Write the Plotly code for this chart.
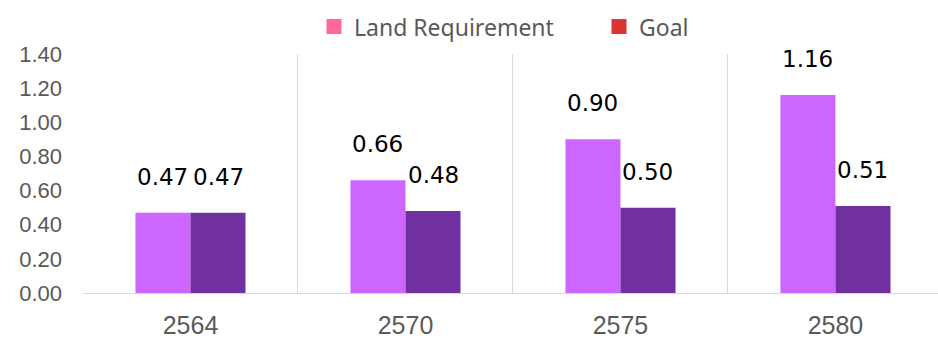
import plotly.graph_objects as go

# Data
years = ["2564", "2570", "2575", "2580"]
land_requirement = [0.47, 0.66, 0.90, 1.16]
goal = [0.47, 0.48, 0.50, 0.51]

BAR_GAP = 0.488
LAND_COLOR = "#CC66FF"
GOAL_COLOR = "#7030A0"

fig = go.Figure()

fig.add_trace(go.Bar(x=years, y=land_requirement, name="Land Requirement",
                     marker=dict(color=LAND_COLOR, line=dict(width=0)),
                     showlegend=False))
fig.add_trace(go.Bar(x=years, y=goal, name="Goal",
                     marker=dict(color=GOAL_COLOR, line=dict(width=0)),
                     showlegend=False))

# Legend entries (swatches use their own colours)
fig.add_trace(go.Scatter(x=[None], y=[None], mode="markers", name="Land Requirement",
                         marker=dict(symbol="square", size=15, color="#FF6699")))
fig.add_trace(go.Scatter(x=[None], y=[None], mode="markers", name="Goal",
                         marker=dict(symbol="square", size=15, color="#DD3333")))

# Value labels above each bar
half = (1 - BAR_GAP) / 4
annotations = []
for i, (a, b) in enumerate(zip(land_requirement, goal)):
    for xv, val in ((i - half, a), (i + half, b)):
        annotations.append(dict(
            x=xv, y=val, xref="x", yref="y", text=f"{val:.2f}",
            showarrow=False, yanchor="bottom", yshift=21,
            font=dict(family="DejaVu Sans", size=23, color="#000000"),
        ))

fig.update_layout(
    width=938, height=339,
    margin=dict(l=83, r=0, t=54, b=46, autoexpand=False),
    paper_bgcolor="white", plot_bgcolor="white",
    barmode="group", bargap=BAR_GAP, bargroupgap=0,
    annotations=annotations,
    legend=dict(orientation="h", x=314 / 938, xanchor="left", xref="container",
                y=0.985, yanchor="top", yref="container",
                valign="top",
                font=dict(family="Noto Sans", size=23, color="#595959"),
                itemwidth=30, entrywidth=240, entrywidthmode="pixels",
                tracegroupgap=0),
    xaxis=dict(type="category", range=[-0.5, 3.477], automargin=False,
               tickson="boundaries", showgrid=True, gridcolor="#D9D9D9", gridwidth=1,
               showline=True, linecolor="#D9D9D9", linewidth=1,
               ticks="", ticklabelstandoff=10,
               tickfont=dict(family="Liberation Sans", size=25, color="#595959")),
    yaxis=dict(range=[0, 1.4], dtick=0.2, tickformat=".2f", automargin=False,
               showgrid=False, zeroline=False, showline=False,
               ticks="", ticklabelstandoff=20,
               tickfont=dict(family="Liberation Sans", size=22, color="#595959")),
)

fig.write_html("out.html")
